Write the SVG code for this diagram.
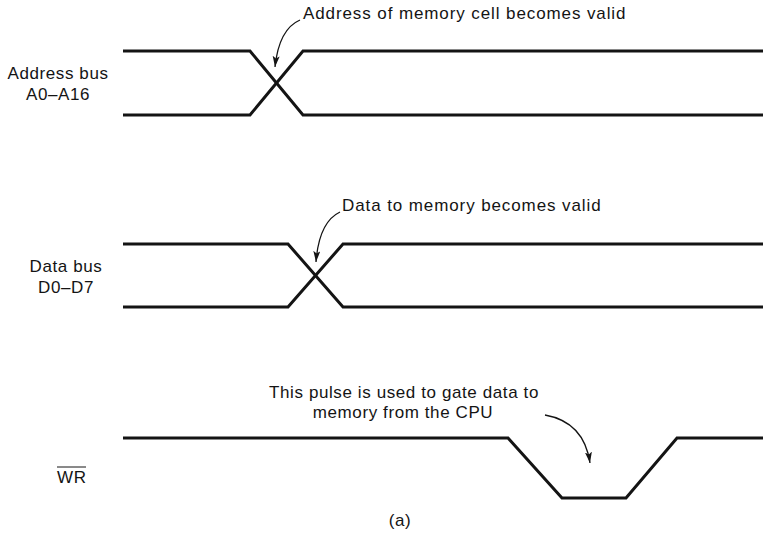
<svg xmlns="http://www.w3.org/2000/svg" width="764" height="541" viewBox="0 0 764 541">
  <style>
    .sig { fill: none; stroke: #141414; stroke-width: 3; stroke-linejoin: miter; stroke-linecap: butt; }
    .lead { fill: none; stroke: #141414; stroke-width: 1.3; }
    .txt { font-family: "Liberation Sans", Arial, sans-serif; font-size: 17px; fill: #141414; letter-spacing: 0.6px; }
    .wide { letter-spacing: 0.9px; }
    .mid { text-anchor: middle; }
  </style>
  <defs>
    <marker id="head" markerUnits="userSpaceOnUse" markerWidth="12" markerHeight="8" refX="11" refY="3.5" orient="auto">
      <path d="M0,0 L11,3.5 L0,7 L2.5,3.5 z" fill="#141414"/>
    </marker>
  </defs>
  <rect width="764" height="541" fill="#ffffff"/>

  <!-- signal labels -->
  <g id="label-address">
    <text class="txt mid" x="58" y="79">Address bus</text>
    <text class="txt mid" x="58" y="100">A0–A16</text>
  </g>
  <g id="label-data">
    <text class="txt mid" x="66" y="272">Data bus</text>
    <text class="txt mid" x="66" y="293">D0–D7</text>
  </g>
  <g id="label-wr">
    <text class="txt" x="57" y="483">WR</text>
    <line x1="57" y1="467" x2="86" y2="467" stroke="#141414" stroke-width="1"/>
  </g>

  <!-- waveforms -->
  <g id="wave-address">
    <polyline class="sig" points="123,51 250,51 303,115 763,115"/>
    <polyline class="sig" points="123,115 250,115 303,51 763,51"/>
  </g>
  <g id="wave-data">
    <polyline class="sig" points="123,244 288,244 343,307 763,307"/>
    <polyline class="sig" points="123,307 288,307 343,244 763,244"/>
  </g>
  <g id="wave-wr">
    <polyline class="sig" points="123,438 508,438 562,498 626,498 677,438 763,438"/>
  </g>

  <!-- annotations -->
  <g id="note-address">
    <text class="txt wide" x="303" y="19">Address of memory cell becomes valid</text>
  </g>
  <g id="note-data">
    <text class="txt wide" x="342" y="211">Data to memory becomes valid</text>
  </g>
  <g id="note-wr">
    <text class="txt mid" x="404" y="398">This pulse is used to gate data to</text>
    <text class="txt mid" x="403" y="418">memory from the CPU</text>
  </g>
  <g id="caption">
    <text class="txt mid" x="400" y="526">(a)</text>
  </g>

  <!-- pointer arrows -->
  <g id="connectors">
    <path class="lead" marker-end="url(#head)" d="M300,20 Q279,29 275,67"/>
    <path class="lead" marker-end="url(#head)" d="M340,212 Q319,222 316,262"/>
    <path class="lead" marker-end="url(#head)" d="M545,415 Q584,422 590,463"/>
  </g>
</svg>
